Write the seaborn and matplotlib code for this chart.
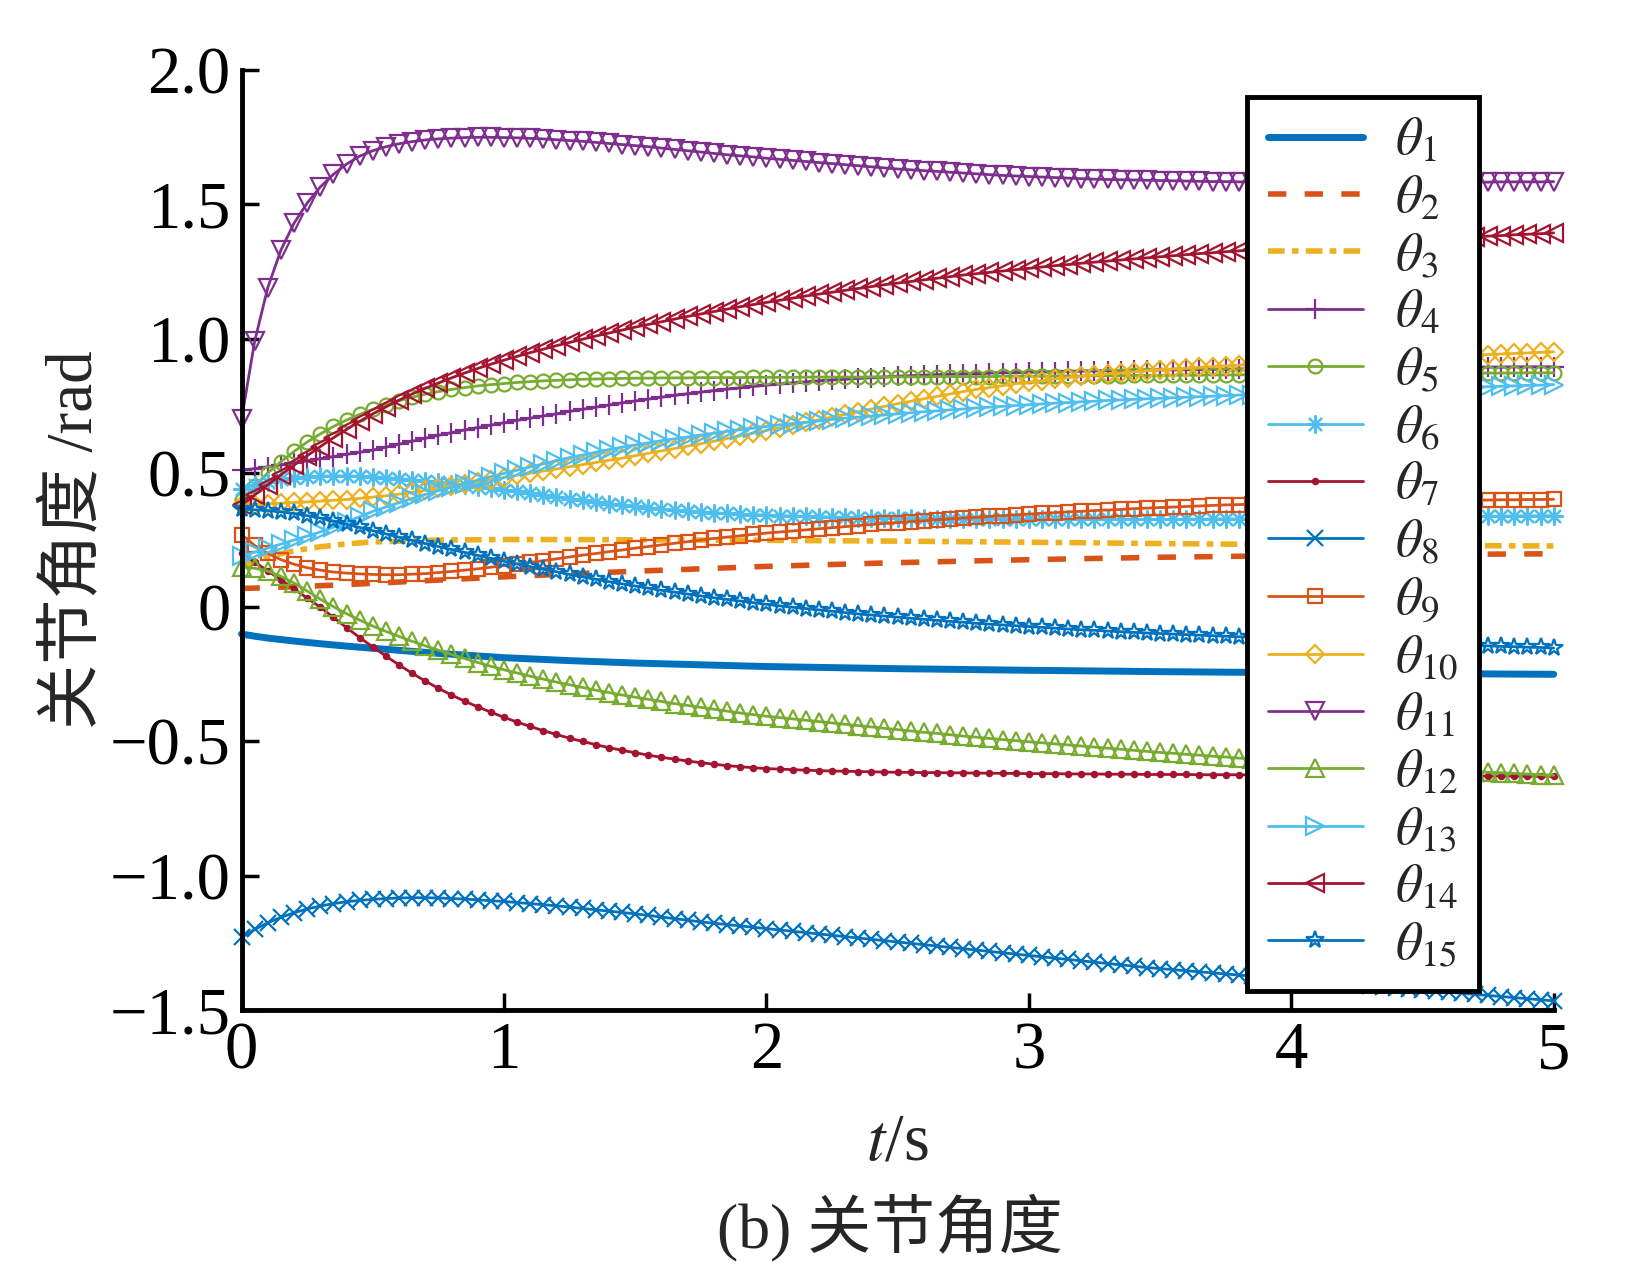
import numpy as np
import pandas as pd
import matplotlib
matplotlib.use("Agg")
import matplotlib.pyplot as plt
import seaborn as sns
from matplotlib.ticker import FuncFormatter

# sample times: lines without markers were read at a few points,
# marked lines at every solver step (0.05 s)
t_line = [0, 0.05, 0.1, 0.2, 0.3, 0.4, 0.5, 0.75, 1.0, 1.25, 1.5, 2.0, 2.5, 3.0, 3.5, 4.0, 4.5, 5.0]
t_dense = np.round(np.linspace(0, 5, 101), 2)

theta1 = [-0.100, -0.108, -0.115, -0.126, -0.136, -0.145, -0.153, -0.172, -0.188,
          -0.199, -0.208, -0.221, -0.229, -0.235, -0.240, -0.244, -0.247, -0.250]
theta2 = [0.070, 0.071, 0.073, 0.076, 0.080, 0.084, 0.089, 0.101, 0.113,
          0.124, 0.134, 0.152, 0.166, 0.177, 0.186, 0.192, 0.196, 0.199]
theta3 = [0.150, 0.172, 0.188, 0.210, 0.225, 0.236, 0.243, 0.250, 0.252,
          0.252, 0.251, 0.249, 0.246, 0.242, 0.237, 0.233, 0.230, 0.228]

theta4 = [0.510, 0.516, 0.523, 0.530, 0.537, 0.545, 0.553, 0.561, 0.569, 0.577,
          0.585, 0.596, 0.607, 0.618, 0.629, 0.640, 0.650, 0.660, 0.669, 0.678,
          0.687, 0.696, 0.704, 0.712, 0.720, 0.729, 0.737, 0.745, 0.753, 0.761,
          0.768, 0.775, 0.782, 0.789, 0.795, 0.801, 0.807, 0.812, 0.817, 0.822,
          0.827, 0.831, 0.835, 0.839, 0.843, 0.846, 0.849, 0.852, 0.855, 0.857,
          0.860, 0.862, 0.864, 0.866, 0.867, 0.869, 0.870, 0.872, 0.873, 0.874,
          0.875, 0.876, 0.877, 0.878, 0.879, 0.880, 0.881, 0.881, 0.882, 0.883,
          0.884, 0.884, 0.885, 0.885, 0.886, 0.886, 0.887, 0.887, 0.888, 0.888,
          0.889, 0.889, 0.890, 0.890, 0.890, 0.891, 0.891, 0.891, 0.892, 0.892,
          0.892, 0.893, 0.893, 0.893, 0.894, 0.894, 0.894, 0.895, 0.895, 0.895,
          0.895]
theta5 = [0.400, 0.450, 0.500, 0.542, 0.580, 0.615, 0.645, 0.673, 0.697, 0.718,
          0.737, 0.754, 0.769, 0.782, 0.793, 0.803, 0.811, 0.818, 0.824, 0.829,
          0.833, 0.837, 0.840, 0.843, 0.845, 0.847, 0.849, 0.850, 0.851, 0.852,
          0.853, 0.853, 0.854, 0.854, 0.854, 0.855, 0.855, 0.855, 0.855, 0.856,
          0.856, 0.856, 0.856, 0.857, 0.857, 0.857, 0.857, 0.857, 0.858, 0.858,
          0.858, 0.858, 0.858, 0.859, 0.859, 0.859, 0.859, 0.859, 0.860, 0.860,
          0.860, 0.860, 0.861, 0.861, 0.861, 0.862, 0.862, 0.862, 0.863, 0.863,
          0.863, 0.864, 0.864, 0.864, 0.865, 0.865, 0.865, 0.866, 0.866, 0.866,
          0.867, 0.867, 0.867, 0.868, 0.868, 0.868, 0.869, 0.869, 0.869, 0.870,
          0.870, 0.870, 0.871, 0.871, 0.871, 0.872, 0.872, 0.872, 0.873, 0.873,
          0.873]
theta6 = [0.440, 0.455, 0.467, 0.476, 0.482, 0.486, 0.488, 0.489, 0.489, 0.488,
          0.486, 0.483, 0.479, 0.475, 0.470, 0.465, 0.460, 0.455, 0.449, 0.444,
          0.438, 0.431, 0.424, 0.417, 0.410, 0.404, 0.398, 0.392, 0.386, 0.381,
          0.376, 0.371, 0.366, 0.362, 0.358, 0.355, 0.352, 0.349, 0.347, 0.345,
          0.343, 0.341, 0.340, 0.338, 0.337, 0.336, 0.335, 0.334, 0.333, 0.333,
          0.332, 0.331, 0.331, 0.330, 0.330, 0.330, 0.329, 0.329, 0.329, 0.328,
          0.328, 0.328, 0.328, 0.327, 0.327, 0.327, 0.327, 0.327, 0.327, 0.327,
          0.327, 0.327, 0.328, 0.328, 0.328, 0.329, 0.329, 0.330, 0.330, 0.331,
          0.331, 0.332, 0.332, 0.333, 0.333, 0.334, 0.334, 0.335, 0.335, 0.336,
          0.336, 0.337, 0.337, 0.338, 0.338, 0.339, 0.339, 0.340, 0.340, 0.341,
          0.341]
theta7 = [0.200, 0.168, 0.135, 0.102, 0.068, 0.034, 0.000, -0.038, -0.076, -0.113,
          -0.148, -0.182, -0.215, -0.246, -0.275, -0.302, -0.327, -0.350, -0.371, -0.391,
          -0.410, -0.428, -0.444, -0.460, -0.474, -0.488, -0.500, -0.512, -0.523, -0.533,
          -0.542, -0.551, -0.559, -0.566, -0.573, -0.579, -0.585, -0.590, -0.594, -0.598,
          -0.601, -0.603, -0.605, -0.607, -0.609, -0.610, -0.611, -0.612, -0.613, -0.614,
          -0.615, -0.615, -0.616, -0.616, -0.617, -0.617, -0.618, -0.618, -0.619, -0.619,
          -0.620, -0.620, -0.620, -0.621, -0.621, -0.621, -0.622, -0.622, -0.622, -0.623,
          -0.623, -0.623, -0.623, -0.624, -0.624, -0.624, -0.624, -0.625, -0.625, -0.625,
          -0.625, -0.625, -0.626, -0.626, -0.626, -0.626, -0.627, -0.627, -0.627, -0.627,
          -0.628, -0.628, -0.628, -0.628, -0.629, -0.629, -0.629, -0.629, -0.630, -0.630,
          -0.630]
theta8 = [-1.230, -1.200, -1.175, -1.155, -1.138, -1.124, -1.113, -1.104, -1.097, -1.092,
          -1.088, -1.085, -1.083, -1.082, -1.082, -1.083, -1.085, -1.087, -1.090, -1.093,
          -1.096, -1.100, -1.104, -1.108, -1.112, -1.117, -1.122, -1.127, -1.132, -1.137,
          -1.142, -1.148, -1.154, -1.160, -1.166, -1.172, -1.177, -1.182, -1.187, -1.192,
          -1.197, -1.202, -1.207, -1.212, -1.217, -1.222, -1.227, -1.232, -1.237, -1.242,
          -1.247, -1.252, -1.257, -1.262, -1.267, -1.272, -1.277, -1.282, -1.287, -1.292,
          -1.297, -1.302, -1.307, -1.312, -1.317, -1.322, -1.327, -1.332, -1.337, -1.342,
          -1.346, -1.350, -1.354, -1.358, -1.362, -1.366, -1.370, -1.374, -1.378, -1.382,
          -1.386, -1.390, -1.394, -1.398, -1.402, -1.406, -1.410, -1.414, -1.418, -1.422,
          -1.426, -1.430, -1.434, -1.438, -1.442, -1.446, -1.450, -1.454, -1.458, -1.462,
          -1.466]
theta9 = [0.270, 0.230, 0.200, 0.177, 0.160, 0.147, 0.138, 0.131, 0.127, 0.124,
          0.122, 0.121, 0.121, 0.123, 0.125, 0.129, 0.133, 0.138, 0.143, 0.149,
          0.155, 0.161, 0.167, 0.173, 0.180, 0.187, 0.194, 0.200, 0.207, 0.213,
          0.220, 0.226, 0.232, 0.238, 0.244, 0.250, 0.256, 0.261, 0.266, 0.271,
          0.276, 0.280, 0.284, 0.288, 0.292, 0.296, 0.300, 0.304, 0.308, 0.312,
          0.315, 0.319, 0.322, 0.326, 0.329, 0.332, 0.335, 0.338, 0.341, 0.344,
          0.347, 0.350, 0.352, 0.355, 0.357, 0.360, 0.362, 0.364, 0.367, 0.369,
          0.371, 0.373, 0.375, 0.377, 0.379, 0.381, 0.382, 0.384, 0.385, 0.387,
          0.388, 0.389, 0.390, 0.391, 0.392, 0.393, 0.394, 0.395, 0.395, 0.396,
          0.397, 0.397, 0.398, 0.398, 0.399, 0.399, 0.400, 0.400, 0.401, 0.401,
          0.402]
theta10 = [0.380, 0.382, 0.385, 0.387, 0.390, 0.392, 0.395, 0.398, 0.401, 0.405,
           0.410, 0.415, 0.421, 0.428, 0.435, 0.443, 0.451, 0.459, 0.467, 0.475,
           0.483, 0.491, 0.499, 0.507, 0.515, 0.523, 0.531, 0.539, 0.547, 0.555,
           0.564, 0.573, 0.582, 0.591, 0.600, 0.609, 0.618, 0.628, 0.638, 0.648,
           0.658, 0.668, 0.678, 0.688, 0.698, 0.708, 0.718, 0.728, 0.738, 0.748,
           0.758, 0.767, 0.776, 0.785, 0.794, 0.803, 0.811, 0.818, 0.825, 0.832,
           0.838, 0.844, 0.850, 0.855, 0.860, 0.865, 0.869, 0.873, 0.877, 0.881,
           0.884, 0.887, 0.890, 0.893, 0.896, 0.899, 0.901, 0.904, 0.906, 0.909,
           0.911, 0.913, 0.915, 0.917, 0.919, 0.921, 0.923, 0.925, 0.927, 0.929,
           0.931, 0.933, 0.935, 0.937, 0.939, 0.941, 0.943, 0.945, 0.947, 0.949,
           0.951]
theta11 = [0.700, 0.990, 1.190, 1.330, 1.430, 1.505, 1.565, 1.612, 1.650, 1.680,
           1.700, 1.715, 1.726, 1.734, 1.740, 1.744, 1.747, 1.749, 1.750, 1.750,
           1.749, 1.748, 1.746, 1.744, 1.741, 1.738, 1.735, 1.731, 1.727, 1.723,
           1.719, 1.715, 1.710, 1.705, 1.700, 1.695, 1.690, 1.685, 1.681, 1.677,
           1.672, 1.668, 1.664, 1.660, 1.656, 1.652, 1.648, 1.644, 1.640, 1.636,
           1.632, 1.629, 1.626, 1.623, 1.620, 1.617, 1.614, 1.611, 1.608, 1.606,
           1.604, 1.602, 1.600, 1.598, 1.596, 1.594, 1.593, 1.592, 1.591, 1.590,
           1.589, 1.588, 1.587, 1.586, 1.585, 1.585, 1.584, 1.584, 1.583, 1.583,
           1.583, 1.582, 1.582, 1.582, 1.582, 1.582, 1.582, 1.582, 1.582, 1.582,
           1.582, 1.583, 1.583, 1.583, 1.583, 1.583, 1.584, 1.584, 1.584, 1.584,
           1.585]
theta12 = [0.150, 0.145, 0.135, 0.115, 0.090, 0.060, 0.030, 0.002, -0.024, -0.048,
           -0.070, -0.090, -0.109, -0.127, -0.144, -0.160, -0.176, -0.191, -0.206, -0.220,
           -0.233, -0.245, -0.257, -0.268, -0.279, -0.289, -0.299, -0.309, -0.318, -0.327,
           -0.335, -0.343, -0.351, -0.359, -0.366, -0.373, -0.380, -0.387, -0.394, -0.400,
           -0.406, -0.411, -0.416, -0.421, -0.426, -0.431, -0.436, -0.441, -0.446, -0.451,
           -0.456, -0.461, -0.466, -0.470, -0.475, -0.480, -0.484, -0.489, -0.493, -0.497,
           -0.501, -0.505, -0.509, -0.513, -0.517, -0.521, -0.525, -0.529, -0.533, -0.537,
           -0.541, -0.544, -0.548, -0.551, -0.555, -0.558, -0.562, -0.565, -0.568, -0.571,
           -0.574, -0.577, -0.580, -0.583, -0.586, -0.589, -0.592, -0.594, -0.597, -0.600,
           -0.602, -0.605, -0.607, -0.610, -0.612, -0.615, -0.617, -0.619, -0.622, -0.624,
           -0.626]
theta13 = [0.190, 0.205, 0.220, 0.235, 0.250, 0.265, 0.280, 0.298, 0.317, 0.337,
           0.357, 0.373, 0.389, 0.405, 0.420, 0.434, 0.447, 0.460, 0.473, 0.486,
           0.498, 0.510, 0.522, 0.534, 0.546, 0.557, 0.567, 0.577, 0.587, 0.596,
           0.604, 0.612, 0.620, 0.627, 0.634, 0.641, 0.648, 0.655, 0.661, 0.667,
           0.673, 0.679, 0.684, 0.689, 0.694, 0.699, 0.704, 0.708, 0.712, 0.716,
           0.720, 0.724, 0.728, 0.731, 0.735, 0.738, 0.742, 0.745, 0.748, 0.751,
           0.754, 0.757, 0.760, 0.762, 0.765, 0.767, 0.770, 0.772, 0.774, 0.776,
           0.778, 0.780, 0.782, 0.784, 0.786, 0.788, 0.790, 0.792, 0.794, 0.795,
           0.797, 0.799, 0.801, 0.802, 0.804, 0.806, 0.807, 0.809, 0.811, 0.812,
           0.814, 0.815, 0.817, 0.818, 0.820, 0.821, 0.823, 0.824, 0.826, 0.827,
           0.829]
theta14 = [0.380, 0.418, 0.456, 0.493, 0.529, 0.564, 0.598, 0.631, 0.662, 0.692,
           0.720, 0.746, 0.771, 0.794, 0.815, 0.835, 0.854, 0.872, 0.889, 0.905,
           0.920, 0.934, 0.948, 0.961, 0.974, 0.986, 0.998, 1.010, 1.021, 1.032,
           1.043, 1.053, 1.063, 1.073, 1.083, 1.092, 1.101, 1.110, 1.119, 1.127,
           1.135, 1.143, 1.151, 1.159, 1.166, 1.173, 1.180, 1.187, 1.194, 1.201,
           1.207, 1.213, 1.219, 1.225, 1.231, 1.237, 1.242, 1.247, 1.252, 1.257,
           1.262, 1.267, 1.272, 1.276, 1.281, 1.285, 1.289, 1.293, 1.297, 1.301,
           1.305, 1.309, 1.313, 1.317, 1.320, 1.324, 1.327, 1.331, 1.334, 1.337,
           1.340, 1.343, 1.346, 1.349, 1.352, 1.355, 1.358, 1.361, 1.364, 1.366,
           1.369, 1.372, 1.374, 1.377, 1.379, 1.382, 1.384, 1.387, 1.389, 1.391,
           1.394]
theta15 = [0.365, 0.363, 0.360, 0.355, 0.349, 0.341, 0.332, 0.321, 0.309, 0.297,
           0.285, 0.273, 0.261, 0.249, 0.237, 0.226, 0.215, 0.204, 0.193, 0.182,
           0.171, 0.161, 0.151, 0.141, 0.132, 0.122, 0.113, 0.104, 0.095, 0.087,
           0.079, 0.071, 0.063, 0.056, 0.049, 0.042, 0.035, 0.029, 0.023, 0.017,
           0.011, 0.005, 0.000, -0.005, -0.010, -0.015, -0.020, -0.025, -0.029, -0.033,
           -0.037, -0.041, -0.045, -0.049, -0.053, -0.056, -0.060, -0.063, -0.066, -0.069,
           -0.072, -0.075, -0.078, -0.081, -0.084, -0.086, -0.089, -0.091, -0.094, -0.096,
           -0.098, -0.100, -0.102, -0.104, -0.106, -0.108, -0.110, -0.112, -0.114, -0.116,
           -0.118, -0.120, -0.122, -0.124, -0.126, -0.128, -0.129, -0.131, -0.133, -0.135,
           -0.136, -0.138, -0.140, -0.141, -0.143, -0.144, -0.146, -0.147, -0.149, -0.150,
           -0.152]

series = [theta1, theta2, theta3, theta4, theta5, theta6, theta7, theta8,
          theta9, theta10, theta11, theta12, theta13, theta14, theta15]
labels = [r"$\theta_{%d}$" % i for i in range(1, 16)]

# matlab default line colours
c = ["#0072BD", "#D95319", "#EDB120", "#7E2F8E", "#77AC30", "#4DBEEE", "#A2142F"]
styles = [
    dict(color=c[0], lw=5.0, solid_capstyle="round"),
    dict(color=c[1], lw=4.0, ls=(0, (3.3, 3.3))),
    dict(color=c[2], lw=4.0, ls=(0, (3.0, 1.3, 1.2, 1.3))),
    dict(color=c[3], lw=2.0, marker="+", ms=15),
    dict(color=c[4], lw=2.0, marker="o", ms=10),
    dict(color=c[5], lw=2.0, marker=(8, 2, 0), ms=13),
    dict(color=c[6], lw=2.0, marker="o", ms=3.8, mfc=c[6]),
    dict(color=c[0], lw=2.0, marker="x", ms=11),
    dict(color=c[1], lw=2.0, marker="s", ms=9.5),
    dict(color=c[2], lw=2.0, marker="D", ms=9),
    dict(color=c[3], lw=2.0, marker="v", ms=13),
    dict(color=c[4], lw=2.0, marker="^", ms=13),
    dict(color=c[5], lw=2.0, marker=">", ms=13),
    dict(color=c[6], lw=2.0, marker="<", ms=13),
    dict(color=c[0], lw=2.0, marker="*", ms=13),
]

sns.set_style("ticks")
plt.rcParams["font.family"] = ["Liberation Serif", "Noto Sans CJK SC"]
plt.rcParams["mathtext.fontset"] = "stix"
plt.rcParams["axes.unicode_minus"] = True

fig, ax = plt.subplots(figsize=(16.32, 12.76), dpi=100)
fig.subplots_adjust(left=0.148, right=0.952, top=0.945, bottom=0.2085)

for vals, lab, st in zip(series, labels, styles):
    x = t_line if len(vals) == len(t_line) else t_dense
    st = dict(st)
    st.setdefault("mfc", "none")
    st["mec"] = st["color"]
    st["mew"] = 1.6
    sns.lineplot(x=x, y=vals, ax=ax, label=lab, errorbar=None, clip_on=False, **st)

ax.set_xlim(0, 5)
ax.set_ylim(-1.5, 2.0)
ax.set_xticks([0, 1, 2, 3, 4, 5])
ax.set_yticks([-1.5, -1.0, -0.5, 0, 0.5, 1.0, 1.5, 2.0])
ax.yaxis.set_major_formatter(FuncFormatter(
    lambda v, p: "0" if abs(v) < 1e-9 else f"{v:.1f}".replace("-", "\u2212")))
ax.xaxis.set_major_formatter(FuncFormatter(lambda v, p: f"{v:.0f}"))

sns.despine(ax=ax)
for side in ["left", "bottom"]:
    ax.spines[side].set_linewidth(3.5)
    ax.spines[side].set_color("black")
ax.tick_params(direction="in", length=12, width=2.5, labelsize=48, pad=8,
               colors="black", top=False, right=False)

ax.set_xlabel("$t$/s", fontsize=48, labelpad=22)
ax.set_ylabel("关节角度 /rad", fontsize=47, labelpad=2)

leg = ax.legend(loc="upper left", bbox_to_anchor=(0.764, 0.924),
                bbox_transform=fig.transFigure, borderaxespad=0,
                fontsize=38, labelspacing=0.17, handlelength=1.8,
                handletextpad=0.6, borderpad=0.4, fancybox=False,
                framealpha=1, edgecolor="black")
leg.get_frame().set_linewidth(3.5)

fig.text(0.545, 0.038, "(b) 关节角度", ha="center", va="center", fontsize=46)

fig.savefig("out.png", dpi=100)
